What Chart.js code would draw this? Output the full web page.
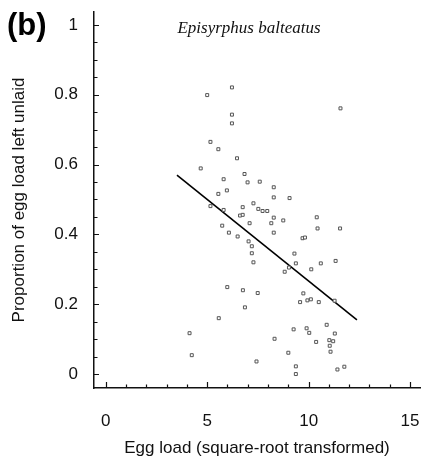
<!DOCTYPE html>
<html><head><meta charset="utf-8">
<script src="https://cdn.jsdelivr.net/npm/chart.js@4"></script>
<style>html,body{margin:0;padding:0;background:#fff}#wrap{width:425px;height:461px;position:relative}</style>
</head><body><div id="wrap"><canvas id="c"></canvas></div>
<script>
// Egg load (square-root transformed)
const eggLoad = [6.22,5.00,6.22,6.22,5.16,5.55,6.47,4.68,6.84,5.81,6.99,7.59,8.28,5.97,5.55,8.28,9.06,7.28,5.16,6.75,
  7.52,7.73,7.96,5.81,6.62,6.75,8.28,8.75,10.40,7.09,8.16,5.74,10.44,11.55,11.57,6.07,8.28,6.50,9.70,9.82,
  7.04,7.20,7.20,9.30,7.28,9.37,10.60,11.33,9.03,8.82,10.13,5.99,6.76,7.49,9.74,6.86,9.58,9.94,10.11,10.50,
  11.28,5.57,10.89,9.26,9.90,10.03,11.29,4.13,8.32,10.37,11.02,11.21,11.04,11.08,9.00,4.24,7.43,9.37,9.37,11.42,11.76];
// Proportion of egg load left unlaid
const propUnlaid = [0.821,0.799,0.743,0.718,0.665,0.644,0.618,0.589,0.573,0.558,0.549,0.551,0.535,0.526,0.516,0.506,0.504,0.489,0.481,0.478,
  0.473,0.467,0.467,0.470,0.454,0.456,0.448,0.440,0.449,0.432,0.432,0.425,0.417,0.417,0.761,0.405,0.405,0.394,0.389,0.391,
  0.380,0.366,0.346,0.345,0.320,0.317,0.317,0.324,0.305,0.293,0.300,0.249,0.240,0.232,0.231,0.191,0.206,0.211,0.214,0.206,
  0.210,0.160,0.141,0.128,0.131,0.118,0.116,0.117,0.101,0.092,0.097,0.094,0.081,0.064,0.061,0.054,0.036,0.022,0.000,0.013,0.021];
// Fitted regression line end points
const fitX = [3.51, 12.38];
const fitY = [0.570, 0.155];
// Tick labels
const xTickValues = [0, 5, 10, 15];
const yTickValues = [0, 0.2, 0.4, 0.6, 0.8, 1];
const xMinorValues = [0,1,2,3,4,5,6,7,8,9,10,11,12,13,14,15];
const yMinorValues = [0,0.05,0.1,0.15,0.2,0.25,0.3,0.35,0.4,0.45,0.5,0.55,0.6,0.65,0.7,0.75,0.8,0.85,0.9,0.95,1];
const panelLabel = '(b)';
const speciesTitle = 'Episyrphus balteatus';
const xTitle = 'Egg load (square-root transformed)';
const yTitle = 'Proportion of egg load left unlaid';

const inkColor = '#111';

const tickMarks = {
  id: 'tickMarks',
  afterDatasetsDraw(chart) {
    const ctx = chart.ctx, xs = chart.scales.x, ys = chart.scales.y;
    const bottom = chart.chartArea.bottom, left = chart.chartArea.left;
    ctx.save();
    ctx.strokeStyle = inkColor;
    ctx.lineWidth = 1.2;
    ctx.beginPath();
    xMinorValues.forEach(v => {
      const px = Math.round(xs.getPixelForValue(v)) + 0.5;
      const len = xTickValues.includes(v) ? 6 : 3.5;
      ctx.moveTo(px, bottom); ctx.lineTo(px, bottom - len);
    });
    yMinorValues.forEach(v => {
      const py = Math.round(ys.getPixelForValue(v)) + 0.5;
      const len = yTickValues.some(t => Math.abs(t - v) < 1e-9) ? 5 : 3.5;
      ctx.moveTo(left, py); ctx.lineTo(left + len, py);
    });
    ctx.stroke();
    ctx.restore();
  },
  afterDraw(chart) {
    const ctx = chart.ctx;
    ctx.save();
    ctx.fillStyle = '#000';
    ctx.textBaseline = 'alphabetic';
    ctx.textAlign = 'left';
    ctx.font = 'bold 31px "Liberation Sans", Arial, sans-serif';
    ctx.fillText(panelLabel, 7, 35);
    ctx.textAlign = 'center';
    ctx.font = 'italic 17px "Liberation Serif", "Times New Roman", serif';
    ctx.fillStyle = '#111';
    ctx.fillText(speciesTitle, 249, 33);
    ctx.restore();
  }
};

new Chart(document.getElementById('c'), {
  type: 'scatter',
  data: {
    datasets: [
      {
        type: 'scatter',
        data: eggLoad.map((x, i) => ({x: x, y: propUnlaid[i]})),
        pointStyle: 'rect',
        pointRadius: 2.1,
        borderWidth: 1,
        borderColor: '#555',
        backgroundColor: '#fff'
      },
      {
        type: 'line',
        data: fitX.map((x, i) => ({x: x, y: fitY[i]})),
        showLine: true,
        borderColor: '#000',
        borderWidth: 1.6,
        pointRadius: 0,
        fill: false
      }
    ]
  },
  options: {
    responsive: true,
    maintainAspectRatio: false,
    animation: false,
    layout: {padding: {top: 12, left: 0, right: 0, bottom: 0}},
    plugins: {legend: {display: false}, tooltip: {enabled: false}},
    scales: {
      x: {
        type: 'linear',
        min: -0.58,
        max: 15.49,
        grid: {display: false},
        border: {display: true, color: inkColor, width: 1.5},
        afterBuildTicks: s => { s.ticks = xTickValues.map(v => ({value: v})); },
        afterFit: s => { s.height = 73; s.paddingLeft = 0; s.paddingRight = 0; },
        ticks: {
          color: inkColor, padding: 15, maxRotation: 0, autoSkip: false,
          font: {family: '"Liberation Sans", Arial, sans-serif', size: 17},
          callback: v => String(v)
        },
        title: {
          display: true, text: xTitle, color: inkColor,
          font: {family: '"Liberation Sans", Arial, sans-serif', size: 17},
          padding: {top: 0, bottom: 2}
        }
      },
      y: {
        type: 'linear',
        min: -0.04,
        max: 1.037,
        grid: {display: false},
        border: {display: true, color: inkColor, width: 1.5},
        afterBuildTicks: s => { s.ticks = yTickValues.map(v => ({value: v})); },
        afterFit: s => { s.width = 94; s.paddingTop = 0; s.paddingBottom = 0; },
        ticks: {
          color: inkColor, padding: 8, autoSkip: false,
          font: {family: '"Liberation Sans", Arial, sans-serif', size: 17},
          callback: v => String(v)
        },
        title: {
          display: true, text: yTitle, color: inkColor,
          font: {family: '"Liberation Sans", Arial, sans-serif', size: 17},
          padding: {top: 9, bottom: 0}
        }
      }
    }
  },
  plugins: [tickMarks]
});
</script>
</body></html>
